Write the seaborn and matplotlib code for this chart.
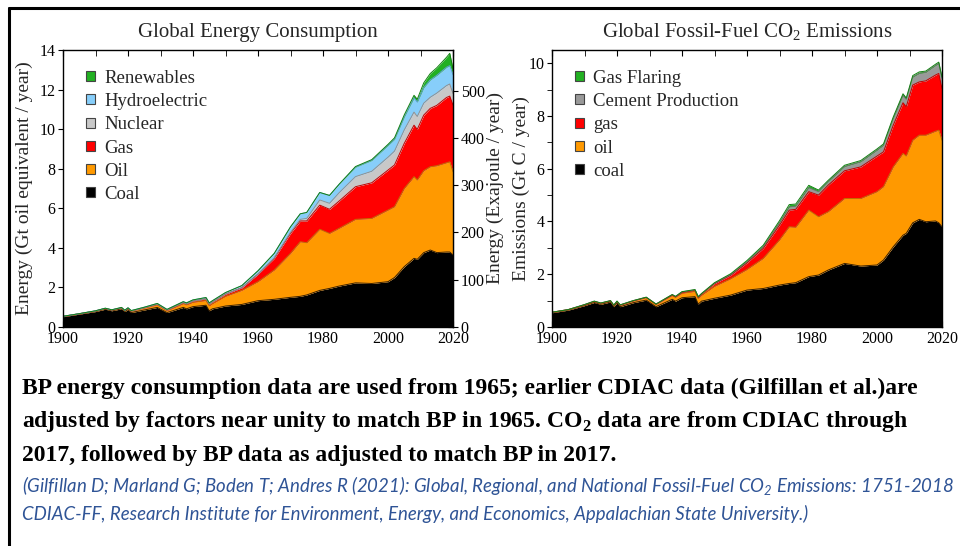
import numpy as np
import pandas as pd
import seaborn as sns
import matplotlib.pyplot as plt
from matplotlib.patches import Patch
from matplotlib.lines import Line2D
from matplotlib.ticker import MultipleLocator

years = [1900, 1905, 1910, 1913, 1915, 1918, 1919, 1920, 1921, 1925,
         1929, 1932, 1937, 1938, 1940, 1944, 1945, 1946, 1950, 1955,
         1960, 1965, 1970, 1973, 1975, 1979, 1982, 1985, 1990, 1995,
         2000, 2002, 2005, 2008, 2009, 2011, 2013, 2015, 2018, 2019, 2020]

# energy consumption, Gt oil equivalent / year
coal_e = [0.52, 0.65, 0.78, 0.90, 0.82, 0.92, 0.78, 0.88, 0.73, 0.86,
          0.99, 0.73, 0.99, 0.92, 1.03, 1.10, 0.82, 0.92, 1.06, 1.14,
          1.33, 1.40, 1.50, 1.55, 1.62, 1.85, 1.95, 2.07, 2.23, 2.20,
          2.29, 2.50, 3.05, 3.47, 3.42, 3.76, 3.89, 3.76, 3.79, 3.79, 3.64]
oil_e = [0.01, 0.01, 0.02, 0.03, 0.03, 0.04, 0.04, 0.06, 0.07, 0.09,
         0.13, 0.09, 0.19, 0.20, 0.22, 0.24, 0.25, 0.26, 0.49, 0.71,
         0.96, 1.48, 2.22, 2.76, 2.64, 3.09, 2.78, 2.92, 3.21, 3.29,
         3.62, 3.58, 3.95, 4.13, 4.01, 4.14, 4.21, 4.39, 4.51, 4.56, 4.21]
gas_e = [0.01, 0.01, 0.01, 0.01, 0.01, 0.01, 0.01, 0.01, 0.01, 0.02,
         0.03, 0.03, 0.05, 0.05, 0.06, 0.08, 0.08, 0.08, 0.11, 0.13,
         0.38, 0.59, 1.01, 1.05, 1.10, 1.22, 1.22, 1.38, 1.65, 1.80,
         2.02, 2.11, 2.28, 2.60, 2.56, 2.81, 2.95, 3.05, 3.30, 3.32, 3.37]
nuclear_e = [0, 0, 0, 0, 0, 0, 0, 0, 0, 0,
             0, 0, 0, 0, 0, 0, 0, 0, 0, 0,
             0, 0.02, 0.05, 0.08, 0.13, 0.26, 0.30, 0.42, 0.51, 0.58,
             0.65, 0.70, 0.68, 0.66, 0.65, 0.60, 0.56, 0.62, 0.60, 0.61, 0.58]
hydro_e = [0.0, 0.005, 0.01, 0.01, 0.01, 0.02, 0.02, 0.02, 0.02, 0.03,
           0.04, 0.04, 0.05, 0.05, 0.06, 0.07, 0.07, 0.07, 0.08, 0.11,
           0.17, 0.23, 0.28, 0.28, 0.30, 0.38, 0.40, 0.43, 0.48, 0.55,
           0.60, 0.60, 0.66, 0.72, 0.73, 0.79, 0.88, 0.90, 0.93, 0.93, 0.95]
renew_e = [0, 0, 0, 0, 0, 0, 0, 0, 0, 0,
           0, 0, 0, 0, 0, 0, 0, 0, 0, 0,
           0, 0, 0, 0, 0, 0, 0, 0, 0.03, 0.04,
           0.05, 0.07, 0.10, 0.13, 0.14, 0.24, 0.32, 0.38, 0.50, 0.62, 0.30]

# fossil-fuel CO2 emissions, Gt C / year
coal_c = [0.54, 0.64, 0.81, 0.93, 0.86, 0.95, 0.77, 0.92, 0.77, 0.92,
          1.02, 0.77, 1.05, 0.98, 1.11, 1.15, 0.87, 0.98, 1.09, 1.21,
          1.40, 1.46, 1.59, 1.65, 1.68, 1.91, 1.97, 2.16, 2.41, 2.31,
          2.35, 2.54, 3.04, 3.48, 3.55, 3.95, 4.08, 3.99, 4.02, 3.95, 3.80]
oil_c = [0.01, 0.01, 0.02, 0.03, 0.03, 0.03, 0.04, 0.04, 0.05, 0.06,
         0.09, 0.08, 0.14, 0.14, 0.17, 0.20, 0.21, 0.22, 0.45, 0.62,
         0.78, 1.14, 1.71, 2.15, 2.10, 2.52, 2.21, 2.21, 2.46, 2.56,
         2.78, 2.78, 3.03, 3.10, 2.93, 3.13, 3.19, 3.28, 3.40, 3.51, 3.28]
gas_c = [0.01, 0.01, 0.01, 0.01, 0.01, 0.01, 0.01, 0.01, 0.01, 0.01,
         0.01, 0.01, 0.02, 0.02, 0.03, 0.04, 0.04, 0.04, 0.10, 0.13,
         0.25, 0.38, 0.56, 0.63, 0.68, 0.70, 0.82, 1.01, 1.05, 1.20,
         1.35, 1.32, 1.58, 1.92, 1.87, 2.09, 2.02, 2.06, 2.13, 2.15, 1.96]
cement_c = [0.0, 0.0, 0.01, 0.01, 0.01, 0.01, 0.01, 0.01, 0.01, 0.01,
            0.01, 0.01, 0.02, 0.02, 0.02, 0.02, 0.02, 0.02, 0.02, 0.03,
            0.05, 0.07, 0.10, 0.12, 0.12, 0.15, 0.13, 0.13, 0.16, 0.19,
            0.22, 0.25, 0.25, 0.28, 0.28, 0.30, 0.32, 0.32, 0.36, 0.38, 0.38]
flaring_c = [0, 0, 0, 0, 0, 0, 0, 0, 0, 0,
             0, 0, 0, 0, 0.01, 0.01, 0.01, 0.01, 0.02, 0.03,
             0.04, 0.05, 0.07, 0.09, 0.08, 0.09, 0.06, 0.05, 0.05, 0.05,
             0.05, 0.05, 0.06, 0.06, 0.05, 0.06, 0.06, 0.05, 0.05, 0.05, 0.05]

energy_names = ['Coal', 'Oil', 'Gas', 'Nuclear', 'Hydroelectric', 'Renewables']
energy_series = [coal_e, oil_e, gas_e, nuclear_e, hydro_e, renew_e]
energy_colors = ['#000000', '#ff9900', '#ff0000', '#c8c8c8', '#87cefa', '#22b022']
energy_edges = ['#3a2000', '#c07000', '#c00000', '#909090', '#5aa0d0', '#118011']

co2_names = ['coal', 'oil', 'gas', 'Cement Production', 'Gas Flaring']
co2_series = [coal_c, oil_c, gas_c, cement_c, flaring_c]
co2_colors = ['#000000', '#ff9900', '#ff0000', '#999999', '#22b022']
co2_edges = ['#3a2000', '#c07000', '#c00000', '#707070', '#118011']

GTOE_TO_EJ = 41.868

sns.set_style('ticks')
plt.rcParams['font.family'] = ['Liberation Serif', 'DejaVu Serif']
plt.rcParams['mathtext.fontset'] = 'custom'
plt.rcParams['mathtext.rm'] = 'Liberation Serif'
plt.rcParams['mathtext.bf'] = 'Liberation Serif:bold'
plt.rcParams['mathtext.sf'] = 'Lato:italic'
plt.rcParams['axes.edgecolor'] = 'black'
plt.rcParams['xtick.color'] = 'black'
plt.rcParams['ytick.color'] = 'black'

fig = plt.figure(figsize=(9.6, 5.46), dpi=100)
ax1 = fig.add_axes([63 / 960, 1 - 327 / 546, 390 / 960, 277 / 546])
ax2 = fig.add_axes([552 / 960, 1 - 327 / 546, 390 / 960, 277 / 546])


def draw_stack(ax, names, series, colors, edges):
    ax.stackplot(years, *series, colors=colors, linewidth=0)
    tops = np.cumsum(np.array(series, dtype=float), axis=0)
    df = pd.DataFrame({'year': np.tile(years, len(names)),
                       'top': tops.ravel(),
                       'layer': np.repeat(names, len(years))})
    sns.lineplot(data=df, x='year', y='top', hue='layer', palette=dict(zip(names, edges)),
                 linewidth=0.7, legend=False, ax=ax)
    ax.set_xlim(1900, 2020)
    ax.set_xlabel('')
    ax.set_axisbelow(False)
    ax.xaxis.set_major_locator(MultipleLocator(20))
    ax.xaxis.set_minor_locator(MultipleLocator(10))
    ax.tick_params(axis='x', which='both', direction='in', length=4, top=True,
                   labelsize=11.5, pad=3)
    for t in ax.xaxis.get_major_ticks() + ax.xaxis.get_minor_ticks():
        t.tick1line.set_color('white')
    for sp in ax.spines.values():
        sp.set_linewidth(1.0)
        sp.set_visible(True)
    handles = [Patch(facecolor=c, edgecolor='#444444', linewidth=0.8)
               for c in colors[::-1]]
    ax.legend(handles, names[::-1], loc='upper left', bbox_to_anchor=(0.06, 0.928),
              frameon=False, fontsize=13.5, handlelength=0.45, handleheight=0.45,
              handletextpad=0.5, labelspacing=0.33, borderpad=0, borderaxespad=0)


draw_stack(ax1, energy_names, energy_series, energy_colors, energy_edges)
draw_stack(ax2, co2_names, co2_series, co2_colors, co2_edges)

ax1.set_ylim(0, 14)
ax1.yaxis.set_major_locator(MultipleLocator(2))
ax1.tick_params(axis='y', which='both', direction='out', length=3.5, right=False,
                labelsize=11.5, pad=2)
ax1.set_ylabel('Energy (Gt oil equivalent / year)', fontsize=14)
ax1.yaxis.set_label_coords(-0.077, 0.5)
ax1.set_title('Global Energy Consumption', fontsize=15, pad=9)

sec = ax1.secondary_yaxis('right', functions=(lambda v: v * GTOE_TO_EJ,
                                              lambda v: v / GTOE_TO_EJ))
sec.yaxis.set_major_locator(MultipleLocator(100))
sec.tick_params(axis='y', direction='inout', length=7, labelsize=11.5, pad=2)
sec.set_ylabel('Energy (Exajoule / year)', fontsize=14)
sec.yaxis.set_label_coords(1.087, 0.5, transform=ax1.transAxes)

ax2.set_ylim(0, 10.5)
ax2.yaxis.set_major_locator(MultipleLocator(2))
ax2.yaxis.set_minor_locator(MultipleLocator(1))
ax2.tick_params(axis='y', which='both', direction='out', length=3.5, right=False,
                labelsize=11.5, pad=2)
ax2.set_ylabel('Emissions (Gt C / year)', fontsize=14)
ax2.yaxis.set_label_coords(-0.056, 0.5)
ax2.set_title('Global Fossil-Fuel CO$_2$ Emissions', fontsize=15, pad=9)

# caption
cap = [
    'BP energy consumption data are used from 1965; earlier CDIAC data (Gilfillan et al.)are',
    r'adjusted by factors near unity to match BP in 1965. CO$_\mathbf{2}$ data are from CDIAC through',
    '2017, followed by BP data as adjusted to match BP in 2017.',
]
for i, line in enumerate(cap):
    fig.text(22 / 960, 1 - (388 + 33.5 * i) / 546, line, fontsize=17.0, fontweight='bold',
             va='center', ha='left', color='black')

cite = [
    r'(Gilfillan D; Marland G; Boden T; Andres R (2021): Global, Regional, and National '
    r'Fossil-Fuel CO$_\mathsf{2}$ Emissions: 1751-2018',
    'CDIAC-FF, Research Institute for Environment, Energy, and Economics, '
    'Appalachian State University.)',
]
for i, line in enumerate(cite):
    fig.text(22 / 960, 1 - (486 + 28 * i) / 546, line, fontsize=13.4, style='italic',
             family=['Lato', 'DejaVu Sans'], color='#2f5496', va='center', ha='left')

# outer frame lines
fig.add_artist(Line2D([9 / 960, 1], [1 - 8 / 546, 1 - 8 / 546], color='black',
                      lw=2.2, transform=fig.transFigure))
fig.add_artist(Line2D([9 / 960, 9 / 960], [0, 1 - 8 / 546], color='black',
                      lw=2.2, transform=fig.transFigure))

fig.savefig('out.png', dpi=100)
